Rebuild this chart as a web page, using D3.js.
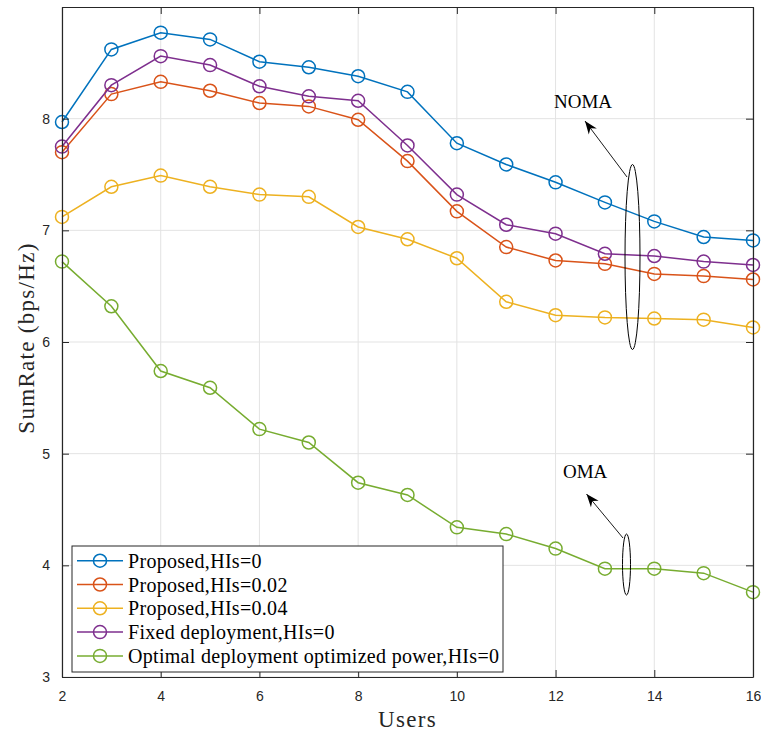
<!DOCTYPE html>
<html>
<head>
<meta charset="utf-8">
<script src="https://cdn.jsdelivr.net/npm/d3@7"></script>
<style>
  body { margin: 0; background: #fff; }
  .tick text { font-family: "Liberation Sans", Arial, sans-serif; font-size: 14px; fill: #262626; }
  .serif { font-family: "Liberation Serif", "Times New Roman", serif; }
</style>
</head>
<body>
<div id="chart"></div>
<script>
const users = [2, 3, 4, 5, 6, 7, 8, 9, 10, 11, 12, 13, 14, 15, 16];

const proposed0   = [7.97, 8.62, 8.77, 8.71, 8.51, 8.46, 8.38, 8.24, 7.78, 7.59, 7.43, 7.25, 7.08, 6.94, 6.91];
const proposed002 = [7.70, 8.22, 8.33, 8.25, 8.14, 8.11, 7.99, 7.62, 7.17, 6.85, 6.73, 6.70, 6.61, 6.59, 6.56];
const proposed004 = [7.12, 7.39, 7.49, 7.39, 7.32, 7.30, 7.03, 6.92, 6.75, 6.36, 6.24, 6.22, 6.21, 6.20, 6.13];
const fixed0      = [7.75, 8.30, 8.56, 8.48, 8.29, 8.20, 8.16, 7.76, 7.32, 7.05, 6.97, 6.79, 6.77, 6.72, 6.69];
const optimal0    = [6.72, 6.32, 5.74, 5.59, 5.22, 5.10, 4.74, 4.63, 4.34, 4.28, 4.15, 3.97, 3.97, 3.93, 3.76];

const seriesNames = ["Proposed,HIs=0", "Proposed,HIs=0.02", "Proposed,HIs=0.04", "Fixed deployment,HIs=0", "Optimal deployment optimized power,HIs=0"];
const seriesColors = ["#0072BD", "#D95319", "#EDB120", "#7E2F8E", "#77AC30"];
const seriesValues = [proposed0, proposed002, proposed004, fixed0, optimal0];

const xTicks = [2, 4, 6, 8, 10, 12, 14, 16];
const yTicks = [3, 4, 5, 6, 7, 8];

const width = 761, height = 733;
const margin = {top: 7, right: 8, bottom: 56, left: 62};
const inWidth = width - margin.left - margin.right,
      inHeight = height - margin.top - margin.bottom;

const x = d3.scaleLinear().domain([2, 16]).range([0, inWidth]);
const y = d3.scaleLinear().domain([3, 9]).range([inHeight, 0]);

const svg = d3.select("#chart").append("svg")
  .attr("width", width)
  .attr("height", height);

const g = svg.append("g").attr("transform", `translate(${margin.left}, ${margin.top})`);

// grid
g.append("g").selectAll("line").data(xTicks).enter().append("line")
  .attr("x1", d => x(d)).attr("x2", d => x(d))
  .attr("y1", 0).attr("y2", inHeight)
  .attr("stroke", "#e3e3e3").attr("stroke-width", 1);
g.append("g").selectAll("line").data(yTicks).enter().append("line")
  .attr("x1", 0).attr("x2", inWidth)
  .attr("y1", d => y(d)).attr("y2", d => y(d))
  .attr("stroke", "#e3e3e3").attr("stroke-width", 1);

// series
const line = d3.line().x((d, i) => x(users[i])).y(d => y(d));
seriesValues.forEach((vals, k) => {
  const sg = g.append("g");
  sg.append("path")
    .datum(vals)
    .attr("d", line)
    .attr("fill", "none")
    .attr("stroke", seriesColors[k])
    .attr("stroke-width", 1.5);
  sg.selectAll("circle").data(vals).enter().append("circle")
    .attr("cx", (d, i) => x(users[i]))
    .attr("cy", d => y(d))
    .attr("r", 6.5)
    .attr("fill", "none")
    .attr("stroke", seriesColors[k])
    .attr("stroke-width", 1.5);
});

// axes (box with inward ticks)
const tickLen = 7;
const axisColor = "#262626";
const xb = g.append("g").attr("transform", `translate(0, ${inHeight})`)
  .call(d3.axisBottom(x).tickValues(xTicks).tickSizeInner(-tickLen).tickSizeOuter(0).tickPadding(14).tickFormat(d3.format("d")));
const xt = g.append("g")
  .call(d3.axisTop(x).tickValues(xTicks).tickSizeInner(-tickLen).tickSizeOuter(0).tickFormat(""));
const yl = g.append("g")
  .call(d3.axisLeft(y).tickValues(yTicks).tickSizeInner(-tickLen).tickSizeOuter(0).tickPadding(12).tickFormat(d3.format("d")));
const yr = g.append("g").attr("transform", `translate(${inWidth}, 0)`)
  .call(d3.axisRight(y).tickValues(yTicks).tickSizeInner(-tickLen).tickSizeOuter(0).tickFormat(""));
[xb, xt, yl, yr].forEach(a => {
  a.select(".domain").attr("stroke", axisColor).attr("stroke-width", 1.2);
  a.selectAll(".tick line").attr("stroke", axisColor).attr("stroke-width", 1);
});

// axis labels
svg.append("text").attr("class", "serif")
  .attr("x", margin.left + inWidth / 2).attr("y", 727)
  .attr("text-anchor", "middle")
  .style("font-size", "23px").style("letter-spacing", "1.3px").style("fill", "#262626")
  .text("Users");
svg.append("text").attr("class", "serif")
  .attr("transform", `translate(34, 338) rotate(-90)`)
  .attr("text-anchor", "middle")
  .style("font-size", "23px").style("letter-spacing", "1.3px").style("fill", "#262626")
  .text("SumRate (bps/Hz)");

// annotations
function annotate(label, tx, ty, ax1, ay1, ax2, ay2, ex, ey, erx, ery) {
  svg.append("text").attr("class", "serif")
    .attr("x", tx).attr("y", ty)
    .style("font-size", "19px").style("fill", "#000")
    .text(label);
  svg.append("line")
    .attr("x1", ax1).attr("y1", ay1).attr("x2", ax2).attr("y2", ay2)
    .attr("stroke", "#000").attr("stroke-width", 0.9);
  const ang = Math.atan2(ay2 - ay1, ax2 - ax1);
  const hl = 13, hw = 5;
  const bx = ax2 - hl * Math.cos(ang), by = ay2 - hl * Math.sin(ang);
  const px = -Math.sin(ang) * hw, py = Math.cos(ang) * hw;
  const mx = ax2 - hl * 0.7 * Math.cos(ang), my = ay2 - hl * 0.7 * Math.sin(ang);
  svg.append("path")
    .attr("d", `M${ax2},${ay2}L${bx + px},${by + py}L${mx},${my}L${bx - px},${by - py}Z`)
    .attr("fill", "#000");
  svg.append("ellipse")
    .attr("cx", ex).attr("cy", ey).attr("rx", erx).attr("ry", ery)
    .attr("fill", "none").attr("stroke", "#000").attr("stroke-width", 1);
}
annotate("NOMA", 554, 108, 627, 177, 585, 121, 632.5, 257, 7.5, 92.5);
annotate("OMA", 563, 478, 623, 538, 586.5, 494, 626.5, 564.5, 4, 30.5);

// legend
const legend = svg.append("g");
legend.append("rect")
  .attr("x", 72).attr("y", 546).attr("width", 431).attr("height", 126)
  .attr("fill", "#fff").attr("stroke", axisColor).attr("stroke-width", 1);
const items = legend.selectAll(".item").data(seriesNames).enter().append("g")
  .attr("transform", (d, i) => `translate(0, ${560.7 + i * 23.8})`);
items.append("line")
  .attr("x1", 77).attr("x2", 123).attr("y1", 0).attr("y2", 0)
  .attr("stroke", (d, i) => seriesColors[i]).attr("stroke-width", 1.5);
items.append("circle")
  .attr("cx", 100).attr("cy", 0).attr("r", 6.5)
  .attr("fill", "none")
  .attr("stroke", (d, i) => seriesColors[i]).attr("stroke-width", 1.5);
items.append("text").attr("class", "serif")
  .attr("x", 128).attr("y", 0).attr("dy", "0.35em")
  .style("font-size", "20px").style("letter-spacing", "0.3px").style("fill", "#000")
  .text(d => d);
</script>
</body>
</html>
